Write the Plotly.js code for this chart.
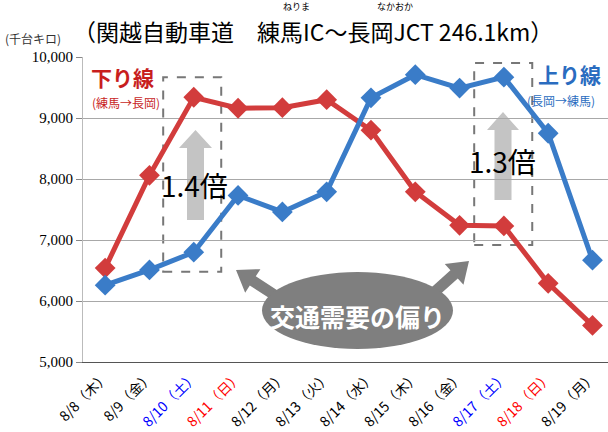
<!DOCTYPE html>
<html>
<head>
<meta charset="utf-8">
<script src="https://cdn.plot.ly/plotly-3.0.1.min.js"></script>
<style>html,body{margin:0;padding:0;background:#fff;}#chart{width:608px;height:432px;}</style>
</head>
<body>
<div id="chart"></div>
<script>
const categories = ['8/8','8/9','8/10','8/11','8/12','8/13','8/14','8/15','8/16','8/17','8/18','8/19'];
const weekdays = ['木','金','土','日','月','火','水','木','金','土','日','月'];
const labelColors = ['#000','#000','#0000ff','#ff0000','#000','#000','#000','#000','#000','#0000ff','#ff0000','#000'];
const downValues = [6540, 8060, 9340, 9160, 9170, 9300, 8800, 7790, 7240, 7230, 6290, 5600];
const upValues = [6260, 6510, 6800, 7730, 7460, 7790, 9330, 9710, 9490, 9670, 8750, 6670];
const yTicks = [5000, 6000, 7000, 8000, 9000, 10000];

const idx = categories.map((c, i) => i);
const tickText = categories.map((c, i) => '<span style="color:' + labelColors[i] + '">' + c + '（' + weekdays[i] + '）</span>');

const RED = '#d23c3c', BLUE = '#3a7cc8';
const JP = '"Noto Sans CJK JP", sans-serif';

const traces = [
  {x: idx, y: downValues, type: 'scatter', mode: 'lines+markers', name: '下り線',
   line: {color: RED, width: 5}, marker: {symbol: 'diamond', size: 16, color: RED}},
  {x: idx, y: upValues, type: 'scatter', mode: 'lines+markers', name: '上り線',
   line: {color: BLUE, width: 5}, marker: {symbol: 'diamond', size: 16, color: BLUE}}
];

// pixel -> paper helpers (plot area 83..608 x, 57..362 y)
const px = v => (v - 83) / 525;
const py = v => (362 - v) / 305;

function polyPath(pts) {
  return pts.map((p, i) => (i ? ' L ' : 'M ') + px(p[0]) + ' ' + py(p[1])).join('') + ' Z';
}
function arrowPts(tail, tip, sw, hw, hl) {
  const dx = tip[0] - tail[0], dy = tip[1] - tail[1];
  const L = Math.hypot(dx, dy), ux = dx / L, uy = dy / L, nx = -uy, ny = ux;
  const bx = tip[0] - ux * hl, by = tip[1] - uy * hl;
  return [
    [tail[0] + nx * sw/2, tail[1] + ny * sw/2],
    [bx + nx * sw/2, by + ny * sw/2],
    [bx + nx * hw/2, by + ny * hw/2],
    tip,
    [bx - nx * hw/2, by - ny * hw/2],
    [bx - nx * sw/2, by - ny * sw/2],
    [tail[0] - nx * sw/2, tail[1] - ny * sw/2]
  ];
}

const shapes = [
  {type: 'rect', xref: 'x', yref: 'y', x0: 1.31, x1: 2.62, y0: 6480, y1: 9670,
   line: {color: '#777', width: 2, dash: 'dash'}, fillcolor: 'rgba(0,0,0,0)', layer: 'below'},
  {type: 'rect', xref: 'x', yref: 'y', x0: 8.33, x1: 9.64, y0: 6920, y1: 9900,
   line: {color: '#777', width: 2, dash: 'dash'}, fillcolor: 'rgba(0,0,0,0)', layer: 'below'},
  {type: 'path', xref: 'paper', yref: 'paper', path: polyPath(arrowPts([195.5, 220], [195.5, 130], 17, 33, 18)),
   fillcolor: '#c4c4c4', line: {width: 0}, layer: 'below'},
  {type: 'path', xref: 'paper', yref: 'paper', path: polyPath(arrowPts([503, 200], [503, 112], 17, 32, 18)),
   fillcolor: '#c4c4c4', line: {width: 0}, layer: 'below'},
  {type: 'path', xref: 'paper', yref: 'paper', path: polyPath(arrowPts([290, 305], [236, 270], 11, 28, 20)),
   fillcolor: '#7f7f7f', line: {width: 0}},
  {type: 'path', xref: 'paper', yref: 'paper', path: polyPath(arrowPts([420, 305], [469, 261], 11, 28, 20)),
   fillcolor: '#7f7f7f', line: {width: 0}},
  {type: 'circle', xref: 'paper', yref: 'paper', x0: px(262), x1: px(453), y0: py(349), y1: py(272),
   fillcolor: '#7f7f7f', line: {width: 0}}
];

function note(x, y, text, font, xanchor) {
  return {xref: 'paper', yref: 'paper', x: px(x), y: py(y), text: text, showarrow: false,
          xanchor: xanchor || 'center', yanchor: 'middle', font: font, borderpad: 0};
}

const annotations = [
  note(357, 316, '<b>交通需要の偏り</b>', {family: JP, size: 25, color: '#ffffff'}),
  note(194, 185, '1.4倍', {family: '"Liberation Sans Narrow", "Noto Sans CJK JP", sans-serif', size: 28, color: '#000'}),
  note(502, 161, '1.3倍', {family: '"Liberation Sans Narrow", "Noto Sans CJK JP", sans-serif', size: 28, color: '#000'}),
  note(122, 77, '<b>下り線</b>', {family: JP, size: 21, color: '#c81e1e'}),
  note(126, 102, '(練馬→長岡)', {family: JP, size: 12, color: '#c81e1e'}),
  note(569, 74, '<b>上り線</b>', {family: JP, size: 21, color: '#2a6cc0'}),
  note(526, 100, '(長岡→練馬)', {family: JP, size: 12, color: '#2a6cc0'}, 'left'),
  note(4, 38, '(千台キロ)', {family: JP, size: 12, color: '#333'}, 'left'),
  note(296, 6.5, 'ねりま', {family: JP, size: 9, color: '#000'}),
  note(395, 6.5, 'なかおか', {family: JP, size: 9, color: '#000'}),
  note(72, 31, '（関越自動車道　練馬IC～長岡JCT 246.1km）', {family: JP, size: 23, color: '#000'}, 'left')
];

const layout = {
  width: 608, height: 432,
  margin: {l: 83, r: 0, t: 57, b: 70},
  paper_bgcolor: '#fff', plot_bgcolor: '#fff',
  showlegend: false,
  xaxis: {
    range: [-0.5, 11.35], tickmode: 'array', tickvals: idx, ticktext: tickText,
    tickangle: -45, tickfont: {family: JP, size: 14, color: '#000'},
    showgrid: false, zeroline: false, showline: true, linecolor: '#555', linewidth: 1,
    ticks: '', fixedrange: true
  },
  yaxis: {
    range: [5000, 10000], tickmode: 'array', tickvals: yTicks,
    tickformat: ',d', tickfont: {family: '"Liberation Serif", serif', size: 15, color: '#000'},
    showgrid: true, gridcolor: '#a8a8a8', gridwidth: 1, zeroline: false,
    showline: true, linecolor: '#bbb', linewidth: 1, ticks: 'outside', ticklen: 6, tickcolor: '#888',
    fixedrange: true
  },
  shapes: shapes,
  annotations: annotations
};

Plotly.newPlot('chart', traces, layout, {displayModeBar: false, staticPlot: true});
</script>
</body>
</html>
